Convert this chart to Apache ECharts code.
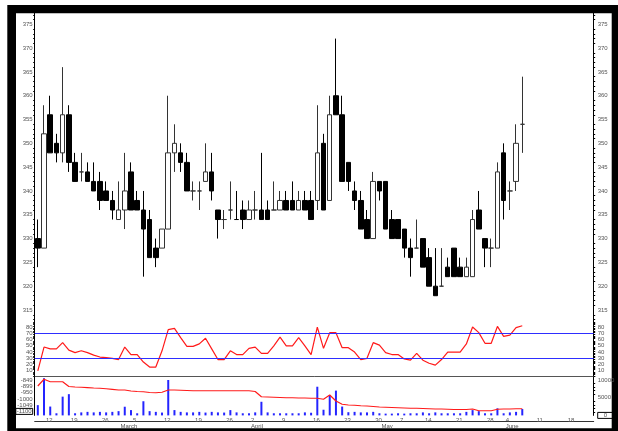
<!DOCTYPE html>
<html>
<head>
<meta charset="utf-8">
<script src="https://cdn.jsdelivr.net/npm/echarts@6.0.0/dist/echarts.min.js"></script>
<style>
html, body { margin: 0; padding: 0; background: #fff; }
#chart { width: 618px; height: 431px; }
</style>
</head>
<body>
<div id="chart"></div>
<script>
// trading days (2007), the last ones are left empty on the chart
const days = [
  '02-09',
  '02-12', '02-13', '02-14', '02-15',
  '02-19', '02-20', '02-21', '02-22', '02-23',
  '02-26', '02-27', '02-28', '03-01', '03-02',
  '03-05', '03-06', '03-07', '03-08', '03-09',
  '03-12', '03-13', '03-14', '03-15', '03-16',
  '03-19', '03-20', '03-21', '03-22', '03-23',
  '03-26', '03-28', '03-29', '03-30',
  '04-02', '04-03', '04-04', '04-05', '04-06',
  '04-09', '04-10', '04-11', '04-12', '04-13',
  '04-16', '04-17', '04-18', '04-19', '04-20',
  '04-23', '04-24', '04-25', '04-26', '04-27',
  '04-30', '05-02', '05-03', '05-04',
  '05-07', '05-08', '05-09', '05-10',
  '05-14', '05-15', '05-16', '05-17', '05-18',
  '05-21', '05-22', '05-23', '05-24', '05-25',
  '05-28', '05-29', '05-30',
  '06-04', '06-05', '06-06', '06-07', '06-08',
  '06-11', '06-12', '06-13', '06-14', '06-15',
  '06-18', '06-19', '06-20', '06-21', '06-22'
]
const monthNames = ['January', 'February', 'March', 'April', 'May', 'June']

const open  = [330,328,356,350,348,356,346,344,344,342, 342,340,338,334,336,344,338,336,334,328,
               328,332,348,348,346,340,340,342,344,336, 334,336,334,336,334,336,336,336,336,336,
               338,338,336,338,338,338,350,338,360,356, 346,340,338,334,330,342,342,334,334,332,
               328,328,330,326,320,320,324,328,324,322, 322,336,330,328,328,348,340,342,354]
const close = [328,352,348,348,356,346,342,344,342,340, 338,338,336,336,340,336,336,332,326,326,
               332,348,350,346,340,340,340,344,340,334, 334,336,334,334,336,336,334,334,336,338,
               336,336,338,336,334,348,336,356,356,342, 342,338,332,330,342,340,332,330,330,328,
               326,328,324,320,318,320,322,322,322,324, 334,332,328,328,344,338,340,350,354]
const low   = [324,328,348,346,346,344,342,342,342,340, 336,338,334,334,332,336,336,322,326,324,
               328,332,344,344,340,338,336,342,338,330, 332,334,334,332,334,334,334,334,336,336,
               336,336,336,336,334,336,336,338,356,342, 340,336,332,330,330,338,332,330,330,326,
               322,328,324,320,318,320,322,322,322,322, 322,332,324,324,328,334,336,340,348]
const high  = [334,358,360,352,366,358,348,348,346,346, 344,342,340,342,348,346,340,340,336,330,
               332,360,354,350,348,342,342,350,348,336, 336,342,340,338,338,340,348,338,342,340,
               340,342,340,340,340,358,352,360,372,360, 346,342,340,336,344,342,342,336,334,332,
               330,334,330,328,328,328,326,328,326,326, 336,340,330,330,346,350,342,354,364]
const volume = [2900,10500,2500,600,5300,6000,600,850,1000,850, 1000,850,1000,1200,2450,1500,600,4000,1200,1000,
                800,10000,1500,1000,850,850,1000,800,1000,850, 800,1500,850,600,600,850,3850,850,600,600,
                600,600,600,850,750,8100,1600,5700,7000,2500, 900,1000,850,850,1000,600,500,500,600,500,
                600,600,850,600,850,600,600,600,600,1000, 1500,1200,600,600,2000,600,850,1000,1800]
const rsi = [10,48,45,45,55,43,39,42,39,35, 32,31,30,28,48,36,36,24,16,16,
             42,76,78,63,49,49,53,62,45,28, 28,42,36,36,46,48,38,38,50,64,
             50,50,63,50,36,80,46,71,71,47, 47,40,28,30,55,51,39,36,36,29,
             27,38,27,22,19,28,40,40,40,53, 80,71,54,54,81,65,67,79,82]
const flow = [-897,-843,-863,-863,-863,-901,-905,-907,-910,-913, -915,-919,-924,-929,-929,-937,-941,-943,-949,-951,
              -947,-929,-929,-931,-933,-935,-935,-935,-935,-935, -935,-935,-935,-935,-935,-941,-983,-985,-987,-989,
              -991,-991,-993,-993,-995,-995,-1003,-969,-1017,-1043, -1049,-1051,-1055,-1057,-1061,-1065,-1067,-1069,-1071,-1073,
              -1075,-1075,-1077,-1079,-1081,-1081,-1083,-1085,-1085,-1085, -1081,-1095,-1095,-1095,-1083,-1081,-1081,-1079,-1079]
const rsiLevels = [70, 30]
const flowLabels = { '-850': '-849', '-900': '-899', '-950': '-950', '-1000': '-1000', '-1050': '-1049', '-1100': '-1100' }

const candles = open.map((o, i) => [o, close[i], low[i], high[i]])

const isWeekStart = v => new Date('2007-' + v + 'T00:00:00Z').getUTCDay() === 1
const isMonthStart = (i, v) => i > 0 && v.slice(0, 2) !== days[i - 1].slice(0, 2)

const lbl = { fontFamily: 'Liberation Sans', fontSize: 6, color: '#555' }
const gridL = 34.7, gridR = 24.3

const chart = echarts.init(document.getElementById('chart'))
chart.setOption({
  animation: false,
  backgroundColor: '#fff',
  graphic: [
    { type: 'rect', z: -100, shape: { x: 7.3, y: 5, width: 612, height: 430 }, style: { fill: '#000' } },
    { type: 'rect', z: -99, shape: { x: 16, y: 13.3, width: 595.7, height: 415 }, style: { fill: '#fff' } }
  ],
  grid: [
    { left: gridL, right: gridR, top: 13.3, height: 308.7 },
    { left: gridL, right: gridR, top: 322, height: 54 },
    { left: gridL, right: gridR, top: 376, height: 39.4 }
  ],
  xAxis: [
    { type: 'category', gridIndex: 0, data: days, show: false },
    { type: 'category', gridIndex: 1, data: days, axisLine: { lineStyle: { color: '#555', width: 1 } },
      axisTick: { show: false }, axisLabel: { show: false } },
    { type: 'category', gridIndex: 2, data: days, position: 'bottom',
      axisLine: { show: false },
      axisTick: { alignWithLabel: true, length: 6.3, interval: (i, v) => isWeekStart(v), lineStyle: { color: '#222' } },
      axisLabel: { ...lbl, interval: (i, v) => isWeekStart(v), margin: 1.5, align: 'left', verticalAlign: 'top',
        padding: [0, 0, 0, 2], formatter: v => String(+v.slice(3)) } },
    { type: 'category', gridIndex: 2, data: days, position: 'bottom', offset: 6.3,
      axisLine: { lineStyle: { color: '#333', width: 1 } },
      axisTick: { alignWithLabel: true, length: 6.3, interval: (i, v) => isMonthStart(i, v), lineStyle: { color: '#222' } },
      axisLabel: { ...lbl, interval: (i, v) => isMonthStart(i, v), margin: 1.5, align: 'left', verticalAlign: 'top',
        padding: [0, 0, 0, 2], formatter: v => monthNames[+v.slice(0, 2) - 1] } }
  ],
  yAxis: [
    // price
    { type: 'value', gridIndex: 0, position: 'left', min: 312.48, max: 377.31, splitNumber: 13, scale: true,
      axisLine: { show: true, lineStyle: { color: '#000' } }, axisTick: { length: 3, lineStyle: { color: '#000' } },
      minorTick: { show: true, splitNumber: 5, length: 1.5, lineStyle: { color: '#000' } },
      splitLine: { show: false }, axisLabel: { ...lbl, margin: 2, showMinLabel: false, showMaxLabel: false } },
    { type: 'value', gridIndex: 0, position: 'right', min: 312.48, max: 377.31, splitNumber: 13, scale: true,
      axisLine: { show: true, lineStyle: { color: '#000' } }, axisTick: { length: 3, lineStyle: { color: '#000' } },
      minorTick: { show: true, splitNumber: 5, length: 1.5, lineStyle: { color: '#000' } },
      splitLine: { show: false }, axisLabel: { ...lbl, margin: 4, showMinLabel: false, showMaxLabel: false } },
    // rsi
    { type: 'value', gridIndex: 1, position: 'left', min: 1.68, max: 88.08, splitNumber: 9,
      axisLine: { show: true, lineStyle: { color: '#000' } }, axisTick: { length: 3, lineStyle: { color: '#000' } },
      minorTick: { show: true, splitNumber: 5, length: 1.5, lineStyle: { color: '#000' } },
      splitLine: { show: false }, axisLabel: { ...lbl, margin: 2, showMinLabel: false, showMaxLabel: false } },
    { type: 'value', gridIndex: 1, position: 'right', min: 1.68, max: 88.08, splitNumber: 9,
      axisLine: { show: true, lineStyle: { color: '#000' } }, axisTick: { length: 3, lineStyle: { color: '#000' } },
      minorTick: { show: true, splitNumber: 5, length: 1.5, lineStyle: { color: '#000' } },
      splitLine: { show: false }, axisLabel: { ...lbl, margin: 4, showMinLabel: false, showMaxLabel: false } },
    // flow line (left)
    { type: 'value', gridIndex: 2, position: 'left', min: -1132.2, max: -817, splitNumber: 6,
      axisLine: { show: true, lineStyle: { color: '#000' } }, axisTick: { length: 3, lineStyle: { color: '#000' } },
      splitLine: { show: false },
      axisLabel: { ...lbl, margin: 2, showMinLabel: false, showMaxLabel: false,
        formatter: v => v === -1100 ? '{b|' + flowLabels[v] + '}' : (flowLabels[v] || ''),
        rich: { b: { ...lbl, borderColor: '#000', borderWidth: 1, padding: [0, 1] } } } },
    // volume (right)
    { type: 'value', gridIndex: 2, position: 'right', min: 0, max: 11130, splitNumber: 2,
      axisLine: { show: true, lineStyle: { color: '#000' } }, axisTick: { length: 3, lineStyle: { color: '#000' } },
      minorTick: { show: true, splitNumber: 5, length: 1.5, lineStyle: { color: '#000' } },
      splitLine: { show: false },
      axisLabel: { ...lbl, margin: 4, showMaxLabel: false,
        formatter: v => v === 0 ? '{b|0}' : String(v),
        rich: { b: { ...lbl, borderColor: '#000', borderWidth: 1, padding: [0, 6] } } } }
  ],
  series: [
    { type: 'candlestick', xAxisIndex: 0, yAxisIndex: 0, data: candles, barWidth: 5,
      itemStyle: { color: '#fff', color0: '#000', borderColor: '#333', borderColor0: '#000', borderWidth: 1 } },
    { type: 'line', xAxisIndex: 1, yAxisIndex: 2, data: rsi, symbol: 'none',
      lineStyle: { color: '#ff1a1a', width: 1.2 },
      markLine: { silent: true, symbol: 'none', label: { show: false },
        lineStyle: { color: '#2e2eff', type: 'solid', width: 1.2 },
        data: rsiLevels.map(v => ({ yAxis: v })) } },
    { type: 'bar', xAxisIndex: 2, yAxisIndex: 5, data: volume, barWidth: 2,
      itemStyle: { color: '#2424ff' } },
    { type: 'line', xAxisIndex: 2, yAxisIndex: 4, data: flow, symbol: 'none',
      lineStyle: { color: '#ff1a1a', width: 1.2 } }
  ]
})
</script>
</body>
</html>
